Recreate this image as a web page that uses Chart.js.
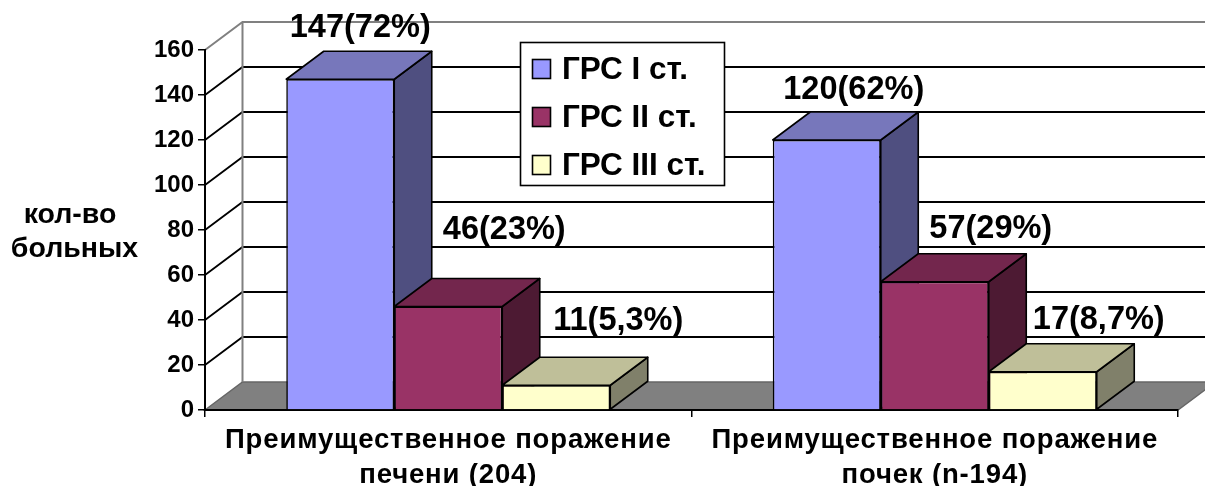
<!DOCTYPE html>
<html><head><meta charset="utf-8">
<style>html,body{margin:0;padding:0;background:#fff}canvas{display:block}</style>
<script src="https://cdn.jsdelivr.net/npm/chart.js@4/dist/chart.umd.min.js"></script>
</head><body><canvas id="c" width="1205" height="486"></canvas>
<script>
const categories=[["Преимущественное поражение","печени (204)"],["Преимущественное поражение","почек (n-194)"]];
const seriesNames=["ГРС I ст.","ГРС II ст.","ГРС III ст."];
const grade1=[147,120];
const grade2=[46,57];
const grade3=[11,17];
const grade1Labels=["147(72%)","120(62%)"];
const grade2Labels=["46(23%)","57(29%)"];
const grade3Labels=["11(5,3%)","17(8,7%)"];
const yAxisLines=["кол-во","больных"];

const FONT='"Liberation Sans", Arial, sans-serif';
const DX=37.5, DY=-28;
const faces=[{front:"#9999FF",top:"#7777BB",side:"#4F4F80"},{front:"#993366",top:"#73264D",side:"#4D1A33"},{front:"#FFFFCC",top:"#BFBF99",side:"#80806A"}];
const labelSets=[grade1Labels,grade2Labels,grade3Labels];
const labelShift=[[[20,-51],[27,-50]],[[56,-76],[56,-53]],[[62,-64],[56,-52]]];

const scene={
  id:"scene",
  beforeDraw(ch){
    const c=ch.ctx,a=ch.chartArea,y=ch.scales.y;
    c.save();
    c.fillStyle="#808080";c.strokeStyle="#666";c.lineWidth=1.5;
    c.beginPath();c.moveTo(a.left,a.bottom);c.lineTo(a.left+DX,a.bottom+DY);c.lineTo(a.right+DX,a.bottom+DY);c.lineTo(a.right,a.bottom);c.closePath();c.fill();c.stroke();
    y.ticks.forEach(t=>{
      if(t.value===0)return;
      const p=y.getPixelForValue(t.value);
      c.strokeStyle=t.value===160?"#808080":"#000";c.lineWidth=t.value===160?2:1.8;
      c.beginPath();c.moveTo(a.left,p);c.lineTo(a.left+DX,p+DY);c.lineTo(a.right+DX,p+DY);c.stroke();
    });
    c.strokeStyle="#808080";c.lineWidth=2;
    c.beginPath();c.moveTo(a.left+DX,a.top+DY);c.lineTo(a.left+DX,a.bottom+DY);c.stroke();
    c.restore();
  },
  beforeDatasetsDraw(ch){
    const c=ch.ctx;
    c.save();c.strokeStyle="#000";c.lineWidth=1.6;c.lineJoin="round";
    for(let g=0;g<categories.length;g++){
      ch.data.datasets.forEach((d,i)=>{
        const b=ch.getDatasetMeta(i).data[g],L=b.x-b.width/2,R=b.x+b.width/2,T=b.y,B=b.base;
        c.fillStyle=faces[i].side;
        c.beginPath();c.moveTo(R,B);c.lineTo(R+DX,B+DY);c.lineTo(R+DX,T+DY);c.lineTo(R,T);c.closePath();c.fill();c.stroke();
        c.fillStyle=faces[i].top;
        c.beginPath();c.moveTo(L,T);c.lineTo(L+DX,T+DY);c.lineTo(R+DX,T+DY);c.lineTo(R,T);c.closePath();c.fill();c.stroke();
      });
    }
    c.restore();
  },
  afterDraw(ch){
    const c=ch.ctx;
    c.save();c.fillStyle="#000";c.textBaseline="middle";
    c.textAlign="center";c.font="bold 32.5px "+FONT;
    ch.data.datasets.forEach((d,i)=>{
      ch.getDatasetMeta(i).data.forEach((b,g)=>{
        c.fillText(labelSets[i][g],b.x+labelShift[i][g][0],b.y+labelShift[i][g][1]);
      });
    });
    c.font="bold 28.5px "+FONT;
    c.fillText(yAxisLines[0],70,215);
    c.fillText(yAxisLines[1],74.5,249);
    c.fillStyle="#fff";c.strokeStyle="#000";c.lineWidth=1.6;
    c.fillRect(520.5,42.5,204,143);c.strokeRect(520.5,42.5,204,143);
    c.textAlign="left";c.font="bold 31.5px "+FONT;
    seriesNames.forEach((s,i)=>{
      const cy=69+48*i;
      c.fillStyle=faces[i].front;c.fillRect(532.5,cy-9.5,18,19);c.strokeRect(532.5,cy-9.5,18,19);
      c.fillStyle="#000";c.fillText(s,562,cy+1);
    });
    c.restore();
  }
};

new Chart(document.getElementById("c"),{
  type:"bar",
  data:{labels:categories,datasets:[grade1,grade2,grade3].map((v,i)=>({label:seriesNames[i],data:v,backgroundColor:faces[i].front,borderColor:"#000",borderWidth:1.6,categoryPercentage:0.666,barPercentage:1}))},
  options:{
    responsive:false,animation:false,
    layout:{padding:{top:50,right:27,left:0,bottom:0}},
    plugins:{legend:{display:false},tooltip:{enabled:false},title:{display:false}},
    scales:{
      x:{
        afterFit(s){
          s.height=76;
          if(!s._spaced){
            s._spaced=true;
            const draw=s.drawLabels;
            s.drawLabels=function(a){s.ctx.letterSpacing="0.85px";draw.call(s,a);s.ctx.letterSpacing="0px";};
          }
        },
        grid:{drawOnChartArea:false,drawTicks:true,tickLength:7,color:"#000",lineWidth:1.5},
        border:{color:"#000",width:2},
        ticks:{color:"#000",maxRotation:0,autoSkip:false,padding:6,font:{family:FONT,weight:"bold",size:27.5,lineHeight:"35px"}}
      },
      y:{
        min:0,max:160,
        afterFit(s){s.width=205;},
        grid:{drawOnChartArea:false,drawTicks:true,tickLength:7,color:"#000",lineWidth:1.5},
        border:{color:"#000",width:2},
        ticks:{color:"#000",stepSize:20,padding:4,font:{family:FONT,weight:"bold",size:24}}
      }
    }
  },
  plugins:[scene]
});
</script></body></html>
